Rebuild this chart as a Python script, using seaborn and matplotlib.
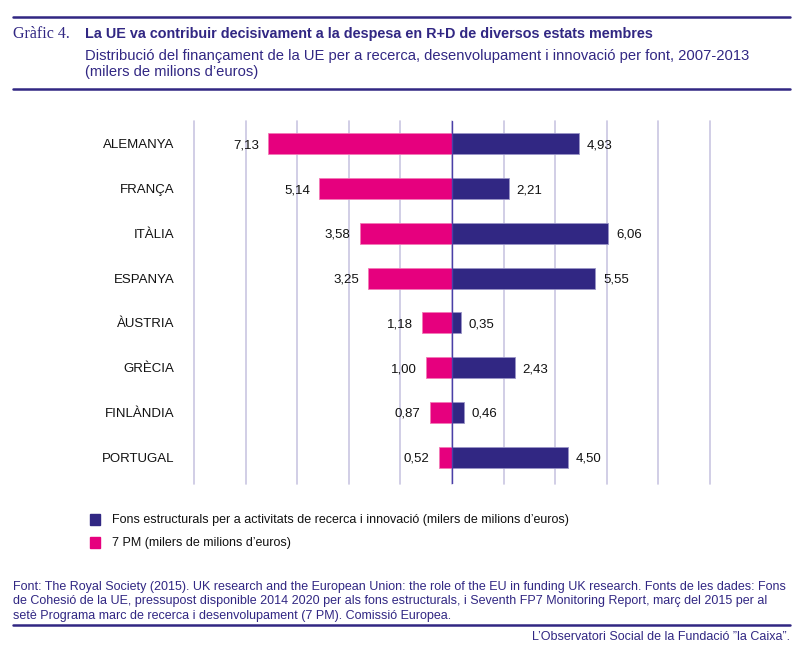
import pandas as pd
import matplotlib.pyplot as plt
import seaborn as sns

# Data
paisos = ["ALEMANYA", "FRANÇA", "ITÀLIA", "ESPANYA", "ÀUSTRIA", "GRÈCIA", "FINLÀNDIA", "PORTUGAL"]
fons_estructurals = [4.93, 2.21, 6.06, 5.55, 0.35, 2.43, 0.46, 4.50]
pm7 = [7.13, 5.14, 3.58, 3.25, 1.18, 1.00, 0.87, 0.52]

PURPLE = "#312783"
PINK = "#E6007E"
GRID = "#CAC6E2"

sns.set_theme(style="white")
plt.rcParams["font.family"] = ["Liberation Sans", "DejaVu Sans"]

df = pd.DataFrame({"pais": paisos, "fons": fons_estructurals, "pm": [-v for v in pm7]})

fig = plt.figure(figsize=(8, 6.5), dpi=100)
ax = fig.add_axes([194 / 800, 1 - 484 / 650, 516 / 800, 363 / 650])

sns.barplot(data=df, y="pais", x="pm", color=PINK, orient="h", width=0.47,
            edgecolor="#F27AB6", linewidth=0.6, saturation=1, ax=ax)
sns.barplot(data=df, y="pais", x="fons", color=PURPLE, orient="h", width=0.47,
            edgecolor="#9A95C6", linewidth=0.6, saturation=1, ax=ax)

ax.set_xlim(-10, 10)
ax.set_ylim(7.6, -0.51)
ax.set_xticks(range(-10, 11, 2))
ax.xaxis.grid(True, color=GRID, linewidth=1.2)
for gl in ax.get_xgridlines():
    gl.set_clip_on(False)
ax.set_axisbelow(True)
ax.axvline(0, color="#4A3FA8", linewidth=1)
for s in ax.spines.values():
    s.set_visible(False)
ax.tick_params(axis="x", labelbottom=False, length=0)
ax.tick_params(axis="y", length=0, pad=14, labelsize=9.5, labelcolor="#111111")
ax.set_xlabel("")
ax.set_ylabel("")

fmt = lambda v: f"{v:.2f}".replace(".", ",")
for i, (f, p) in enumerate(zip(fons_estructurals, pm7)):
    ax.text(f + 0.3, i, fmt(f), va="center_baseline", ha="left", fontsize=9.5, color="#111111")
    ax.text(-p - 0.35, i, fmt(p), va="center_baseline", ha="right", fontsize=9.5, color="#111111")

# Header
fig.add_artist(plt.Line2D([13 / 800, 790 / 800], [1 - 17 / 650] * 2, color=PURPLE, linewidth=1.8))
fig.text(13 / 800, 1 - 34 / 650, "Gràfic 4.", family="Liberation Serif", fontsize=11.5,
         color=PURPLE, va="center")
fig.text(85 / 800, 1 - 34 / 650, "La UE va contribuir decisivament a la despesa en R+D de diversos estats membres",
         fontsize=10.4, fontweight="bold", color=PURPLE, va="center")
fig.text(85 / 800, 1 - 56 / 650, "Distribució del finançament de la UE per a recerca, desenvolupament i innovació per font, 2007-2013",
         fontsize=10.6, color=PURPLE, va="center")
fig.text(85 / 800, 1 - 72 / 650, "(milers de milions d’euros)", fontsize=10.6, color=PURPLE, va="center")
fig.add_artist(plt.Line2D([13 / 800, 790 / 800], [1 - 89 / 650] * 2, color=PURPLE, linewidth=1.8))

# Legend
for yy, col, lab in [(520, PURPLE, "Fons estructurals per a activitats de recerca i innovació (milers de milions d’euros)"),
                     (543, PINK, "7 PM (milers de milions d’euros)")]:
    fig.patches.append(plt.Rectangle((90 / 800, 1 - (yy + 5) / 650), 10 / 800, 11 / 650,
                                     transform=fig.transFigure, color=col, figure=fig))
    fig.text(112 / 800, 1 - yy / 650, lab, fontsize=9, color="#111111", va="center")

# Footer
font_txt = ("Font: The Royal Society (2015). UK research and the European Union: the role of the EU in funding UK research. Fonts de les dades: Fons\n"
            "de Cohesió de la UE, pressupost disponible 2014 2020 per als fons estructurals, i Seventh FP7 Monitoring Report, març del 2015 per al\n"
            "setè Programa marc de recerca i desenvolupament (7 PM). Comissió Europea.")
fig.text(13 / 800, 1 - 581 / 650, font_txt, fontsize=9, color=PURPLE, va="top", linespacing=1.25)
fig.add_artist(plt.Line2D([13 / 800, 790 / 800], [1 - 625 / 650] * 2, color=PURPLE, linewidth=1.8))
fig.text(790 / 800, 1 - 637 / 650, "L’Observatori Social de la Fundació ”la Caixa”.", fontsize=9,
         color=PURPLE, ha="right", va="center")

fig.savefig("out.png", dpi=100)
